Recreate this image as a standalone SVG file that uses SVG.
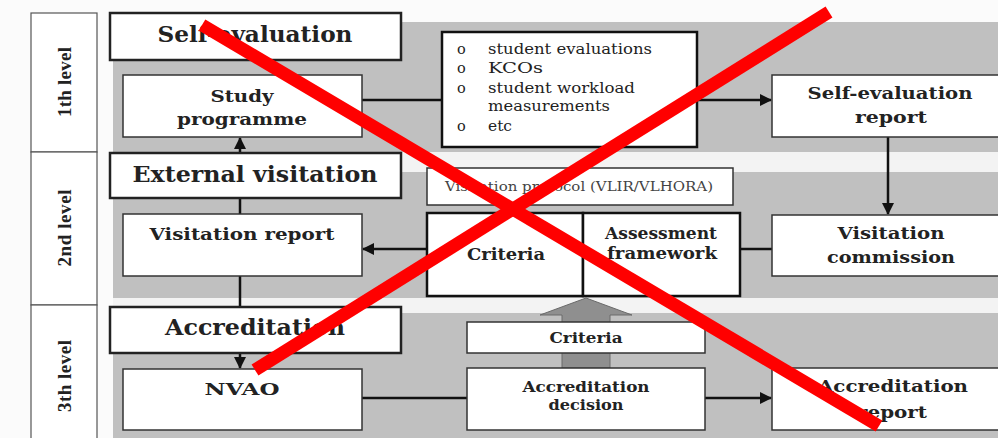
<svg xmlns="http://www.w3.org/2000/svg" width="998" height="438" viewBox="0 0 998 438">
<style>
.box{fill:#fff;stroke:#333;stroke-width:1.5}
.hdr{fill:#fff;stroke:#222;stroke-width:2.5}
.thk{fill:#fff;stroke:#111;stroke-width:2.5}
.lvl{fill:#fff;stroke:#555;stroke-width:1.2}
.band{fill:#c0c0c0}
.t{font-family:"DejaVu Serif",serif;font-weight:bold;fill:#222;text-anchor:middle}
.h{font-size:22px}
.b{font-size:17px}
.s{font-size:16px}
.m{font-size:15px}
.l{font-family:"DejaVu Serif",serif;font-size:14.5px;fill:#222}
.lv{font-family:"Liberation Serif",serif;font-weight:bold;font-size:19px;fill:#222;text-anchor:middle}
.c{stroke:#111;stroke-width:2.5;fill:none}
</style>
<defs>
<marker id="ah" markerWidth="12" markerHeight="12" refX="11" refY="6" orient="auto" markerUnits="userSpaceOnUse">
<path d="M0,0 L12,6 L0,12 Z" fill="#111"/>
</marker>
</defs>
<rect width="998" height="438" fill="#fbfbfb"/>
<!-- bands -->
<rect class="band" x="113" y="22" width="885" height="130"/>
<rect x="113" y="152" width="885" height="20" fill="#f3f3f3"/>
<rect class="band" x="113" y="172" width="885" height="126"/>
<rect x="113" y="298" width="885" height="15" fill="#f3f3f3"/>
<rect class="band" x="113" y="313" width="885" height="125"/>
<!-- level column -->
<g id="level1"><rect class="lvl" x="31" y="13" width="66" height="139"/><text class="lv" transform="translate(71,82) rotate(-90)" textLength="70">1th level</text></g>
<g id="level2"><rect class="lvl" x="31" y="152" width="66" height="153"/><text class="lv" transform="translate(71,228) rotate(-90)" textLength="77">2nd level</text></g>
<g id="level3"><rect class="lvl" x="31" y="305" width="66" height="140"/><text class="lv" transform="translate(71,376) rotate(-90)" textLength="72">3th level</text></g>
<!-- connectors -->
<g id="connectors">
<line class="c" x1="362" y1="100" x2="442" y2="100"/>
<line class="c" x1="697" y1="100" x2="771" y2="100" marker-end="url(#ah)"/>
<line class="c" x1="888" y1="137" x2="888" y2="214" marker-end="url(#ah)"/>
<line class="c" x1="740" y1="249" x2="772" y2="249"/>
<line class="c" x1="427" y1="249" x2="363" y2="249" marker-end="url(#ah)"/>
<line class="c" x1="240" y1="153" x2="240" y2="138" marker-end="url(#ah)"/>
<line class="c" x1="240" y1="198" x2="240" y2="214"/>
<line class="c" x1="240" y1="276" x2="240" y2="307"/>
<line class="c" x1="240" y1="353" x2="240" y2="368" marker-end="url(#ah)"/>
<line class="c" x1="362" y1="398" x2="467" y2="398"/>
<line class="c" x1="705" y1="398" x2="771" y2="398" marker-end="url(#ah)"/>
<path d="M562,368 L562,315 L540,315 L586,298 L632,315 L610,315 L610,368 Z" fill="#8f8f8f" stroke="#6a6a6a" stroke-width="1"/>
</g>
<!-- nodes -->
<g id="self-evaluation"><rect class="hdr" x="110" y="13" width="291" height="47"/><text class="t h" x="255" y="42" textLength="195" lengthAdjust="spacingAndGlyphs">Self-evaluation</text></g>
<g id="study-programme"><rect class="box" x="123" y="75" width="239" height="62"/><text class="t b" x="242" y="102" textLength="63" lengthAdjust="spacingAndGlyphs">Study</text><text class="t b" x="242" y="125" textLength="130" lengthAdjust="spacingAndGlyphs">programme</text></g>
<g id="measures"><rect class="thk" x="442" y="32" width="255" height="115"/>
<text class="l" x="457" y="54">o</text><text class="l" x="488" y="54" textLength="164" lengthAdjust="spacingAndGlyphs">student evaluations</text>
<text class="l" x="457" y="73">o</text><text class="l" x="488" y="73" textLength="55" lengthAdjust="spacingAndGlyphs">KCOs</text>
<text class="l" x="457" y="93">o</text><text class="l" x="488" y="93" textLength="147" lengthAdjust="spacingAndGlyphs">student workload</text>
<text class="l" x="488" y="111" textLength="122" lengthAdjust="spacingAndGlyphs">measurements</text>
<text class="l" x="457" y="131">o</text><text class="l" x="488" y="131" textLength="24" lengthAdjust="spacingAndGlyphs">etc</text></g>
<g id="self-evaluation-report"><rect class="box" x="772" y="75" width="230" height="62"/><text class="t b" x="890" y="99" textLength="165" lengthAdjust="spacingAndGlyphs">Self-evaluation</text><text class="t b" x="891" y="123" textLength="72" lengthAdjust="spacingAndGlyphs">report</text></g>
<g id="external-visitation"><rect class="hdr" x="110" y="153" width="291" height="45"/><text class="t h" x="255" y="182" textLength="245" lengthAdjust="spacingAndGlyphs">External visitation</text></g>
<g id="visitation-report"><rect class="box" x="123" y="214" width="239" height="62"/><text class="t b" x="242" y="240" textLength="185" lengthAdjust="spacingAndGlyphs">Visitation report</text></g>
<g id="protocol"><rect class="box" x="427" y="168" width="306" height="37"/><text x="579" y="191" font-family="'DejaVu Serif',serif" font-size="13" fill="#444" text-anchor="middle" textLength="268" lengthAdjust="spacingAndGlyphs">Visitation protocol (VLIR/VLHORA)</text></g>
<g id="criteria"><rect class="thk" x="427" y="213" width="156" height="83"/><text class="t s" x="506" y="260" textLength="78" lengthAdjust="spacingAndGlyphs">Criteria</text></g>
<g id="assessment-framework"><rect class="thk" x="583" y="213" width="157" height="83"/><text class="t s" x="661" y="239" textLength="112" lengthAdjust="spacingAndGlyphs">Assessment</text><text class="t s" x="662" y="259" textLength="110" lengthAdjust="spacingAndGlyphs">framework</text></g>
<g id="visitation-commission"><rect class="box" x="772" y="215" width="230" height="61"/><text class="t b" x="891" y="239" textLength="107" lengthAdjust="spacingAndGlyphs">Visitation</text><text class="t b" x="891" y="263" textLength="128" lengthAdjust="spacingAndGlyphs">commission</text></g>
<g id="accreditation"><rect class="hdr" x="110" y="307" width="291" height="46"/><text class="t h" x="255" y="335" textLength="180" lengthAdjust="spacingAndGlyphs">Accreditation</text></g>
<g id="nvao"><rect class="box" x="123" y="369" width="239" height="61"/><text class="t b" x="242" y="395" textLength="75" lengthAdjust="spacingAndGlyphs">NVAO</text></g>
<g id="criteria2"><rect class="box" x="467" y="322" width="238" height="31"/><text class="t m" x="586" y="343" textLength="73" lengthAdjust="spacingAndGlyphs">Criteria</text></g>
<g id="accreditation-decision"><rect class="box" x="467" y="368" width="238" height="62"/><text class="t m" x="586" y="392" textLength="127" lengthAdjust="spacingAndGlyphs">Accreditation</text><text class="t m" x="586" y="410" textLength="75" lengthAdjust="spacingAndGlyphs">decision</text></g>
<g id="accreditation-report"><rect class="box" x="772" y="368" width="230" height="62"/><text class="t b" x="893" y="392" textLength="150" lengthAdjust="spacingAndGlyphs">Accreditation</text><text class="t b" x="892" y="418" textLength="70" lengthAdjust="spacingAndGlyphs">report</text></g>
<!-- red cross -->
<g id="cross" stroke="#ff0000" stroke-width="13">
<line x1="202" y1="25" x2="879" y2="426"/>
<line x1="829" y1="12" x2="255" y2="370"/>
</g>
</svg>
